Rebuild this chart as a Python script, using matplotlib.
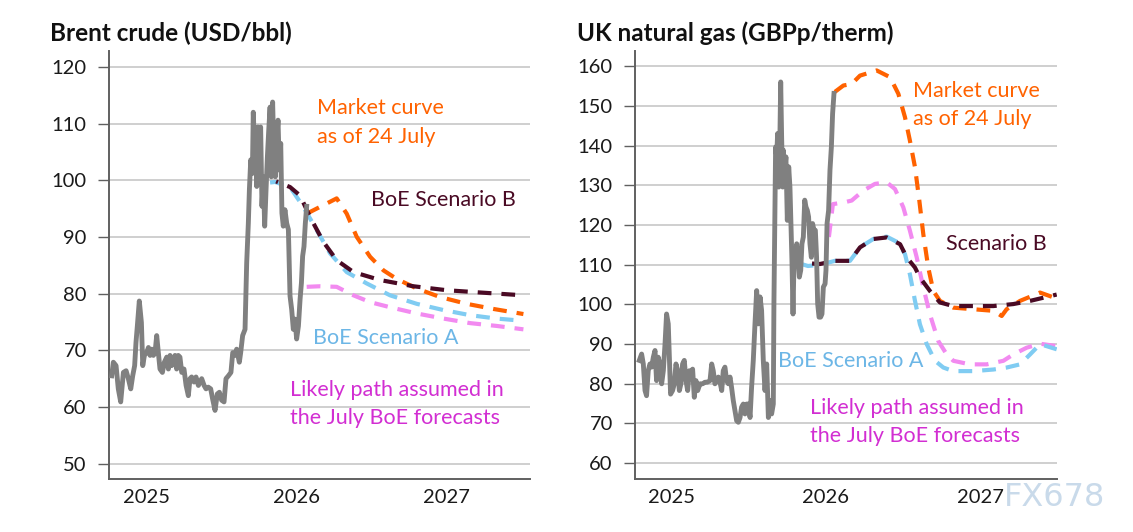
import matplotlib
matplotlib.use("Agg")
import matplotlib.pyplot as plt

# ---------------- DATA ----------------
# Brent crude (USD/bbl), x in fractional years
brent_x = [2024.771, 2024.782, 2024.800, 2024.815, 2024.831, 2024.849, 2024.867, 2024.882, 2024.898, 2024.911,
           2024.924, 2024.933, 2024.942, 2024.955, 2024.969, 2024.978, 2024.989, 2025.004, 2025.016, 2025.027,
           2025.038, 2025.049, 2025.060, 2025.071, 2025.082, 2025.093, 2025.109, 2025.122, 2025.138, 2025.149,
           2025.160, 2025.171, 2025.182, 2025.193, 2025.204, 2025.215, 2025.226, 2025.238, 2025.253, 2025.267,
           2025.282, 2025.293, 2025.304, 2025.320, 2025.333, 2025.349, 2025.360, 2025.371, 2025.387, 2025.400,
           2025.415, 2025.431, 2025.444, 2025.460, 2025.475, 2025.489, 2025.504, 2025.520, 2025.533, 2025.549,
           2025.566, 2025.578, 2025.593, 2025.604, 2025.622, 2025.631, 2025.644, 2025.660, 2025.671, 2025.682,
           2025.689, 2025.698, 2025.709, 2025.715, 2025.724, 2025.731, 2025.738, 2025.746, 2025.755, 2025.764,
           2025.773, 2025.782, 2025.791, 2025.800, 2025.809, 2025.818, 2025.827, 2025.835, 2025.844, 2025.853,
           2025.862, 2025.871, 2025.880, 2025.889, 2025.898, 2025.906, 2025.915, 2025.926, 2025.938, 2025.949,
           2025.960, 2025.971, 2025.982, 2025.993, 2026.004, 2026.016, 2026.027, 2026.036, 2026.044, 2026.053,
           2026.062, 2026.071]
brent_y = [65.5, 67.9, 67.3, 63.2, 60.9, 66.1, 66.4, 65.0, 63.2, 65.5,
           67.3, 71.4, 74.3, 78.7, 74.9, 67.3, 69.1, 69.6, 70.5, 69.1,
           70.2, 69.1, 69.6, 72.6, 69.6, 66.7, 66.1, 67.9, 68.8, 66.7,
           69.1, 67.3, 68.2, 69.1, 66.7, 69.1, 68.8, 66.1, 66.7, 63.8,
           62.0, 65.0, 65.3, 64.4, 65.3, 63.8, 64.4, 65.0, 63.8, 63.2,
           63.5, 63.2, 61.4, 59.4, 62.3, 62.6, 61.2, 60.9, 65.0, 65.5,
           66.1, 69.6, 69.1, 70.2, 67.9, 69.6, 72.6, 73.7, 85.4, 92.4,
           98.3, 103.6, 101.2, 112.0, 105.3, 107.1, 98.9, 109.4, 101.2, 109.4,
           95.4, 100.6, 91.9, 98.3, 104.1, 108.8, 112.9, 100.6, 113.8, 104.1,
           100.6, 107.1, 110.6, 101.8, 106.5, 94.2, 91.9, 94.8, 92.4, 91.3,
           79.6, 77.2, 73.7, 75.5, 72.0, 74.3, 79.0, 81.9, 86.6, 88.3,
           92.4, 95.4]

brent_b_x = [2025.867, 2025.960, 2026.027, 2026.094, 2026.183, 2026.271, 2026.383, 2026.560, 2026.783, 2027.005,
             2027.227, 2027.516]
brent_b_y = [99.8, 98.8, 97.3, 93.5, 89.1, 85.9, 83.8, 82.4, 81.3, 80.6, 80.2, 79.7]

brent_a_x = [2025.827, 2025.860, 2025.960, 2026.049, 2026.138, 2026.227, 2026.338, 2026.471, 2026.627, 2026.805,
             2026.983, 2027.160, 2027.338, 2027.516]
brent_a_y = [99.6, 99.7, 98.8, 95.3, 91.2, 87.1, 83.8, 81.8, 79.7, 78.2, 77.1, 76.2, 75.6, 75.2]

brent_mkt_x = [2026.071, 2026.160, 2026.271, 2026.338, 2026.405, 2026.494, 2026.583, 2026.671, 2026.805, 2026.960,
               2027.138, 2027.316, 2027.516]
brent_mkt_y = [94.1, 95.3, 96.8, 94.1, 90.0, 86.5, 84.1, 82.6, 80.9, 79.4, 78.2, 77.3, 76.4]

brent_lik_x = [2026.071, 2026.160, 2026.271, 2026.383, 2026.494, 2026.627, 2026.805, 2026.983, 2027.160, 2027.338,
               2027.516]
brent_lik_y = [81.2, 81.3, 81.2, 79.7, 78.5, 77.6, 76.5, 75.6, 74.8, 74.3, 73.7]

# UK natural gas (GBPp/therm)
gas_x = [2024.788, 2024.803, 2024.814, 2024.825, 2024.835, 2024.846, 2024.857, 2024.868, 2024.879, 2024.890,
         2024.900, 2024.911, 2024.922, 2024.933, 2024.944, 2024.955, 2024.965, 2024.976, 2024.983, 2024.991,
         2025.004, 2025.015, 2025.026, 2025.037, 2025.048, 2025.058, 2025.069, 2025.080, 2025.091, 2025.102,
         2025.113, 2025.123, 2025.134, 2025.145, 2025.156, 2025.167, 2025.182, 2025.199, 2025.214, 2025.229,
         2025.247, 2025.258, 2025.268, 2025.279, 2025.290, 2025.301, 2025.312, 2025.323, 2025.333, 2025.344,
         2025.355, 2025.366, 2025.377, 2025.387, 2025.398, 2025.409, 2025.420, 2025.431, 2025.442, 2025.452,
         2025.463, 2025.474, 2025.485, 2025.496, 2025.507, 2025.517, 2025.528, 2025.539, 2025.550, 2025.561,
         2025.572, 2025.582, 2025.593, 2025.604, 2025.615, 2025.626, 2025.636, 2025.647, 2025.658, 2025.662,
         2025.669, 2025.673, 2025.680, 2025.686, 2025.693, 2025.699, 2025.706, 2025.712, 2025.719, 2025.723,
         2025.732, 2025.740, 2025.749, 2025.758, 2025.766, 2025.773, 2025.779, 2025.786, 2025.792, 2025.801,
         2025.810, 2025.818, 2025.827, 2025.836, 2025.844, 2025.853, 2025.862, 2025.870, 2025.879, 2025.887,
         2025.896, 2025.905, 2025.913, 2025.922, 2025.931, 2025.939, 2025.946, 2025.955, 2025.965, 2025.974,
         2025.983, 2025.994, 2026.000, 2026.007, 2026.017, 2026.026, 2026.035, 2026.043, 2026.052]
gas_y = [85.9, 87.5, 85.0, 78.3, 77.0, 83.3, 85.0, 84.2, 86.7, 88.4,
         80.8, 86.7, 85.0, 80.0, 83.3, 90.1, 97.6, 95.1, 86.7, 77.4,
         78.3, 80.0, 85.0, 83.3, 78.3, 80.0, 85.0, 85.9, 80.8, 78.3,
         83.3, 81.7, 83.7, 76.6, 80.8, 78.3, 80.0, 80.0, 80.4, 80.4,
         80.8, 85.0, 83.3, 80.0, 80.8, 81.7, 80.4, 78.3, 83.3, 84.2,
         80.8, 80.0, 81.7, 79.1, 75.8, 73.2, 70.7, 70.3, 71.5, 74.1,
         74.9, 72.4, 74.9, 74.9, 71.5, 79.1, 85.9, 95.1, 103.5, 95.1,
         101.9, 98.5, 85.9, 78.3, 85.0, 71.5, 75.8, 72.4, 74.9, 100.2,
         125.4, 139.7, 137.2, 143.1, 129.6, 137.2, 156.1, 142.3, 129.6, 138.9,
         133.9, 137.2, 121.2, 134.7, 129.6, 119.5, 111.1, 97.6, 110.3, 111.9,
         115.3, 111.9, 106.9, 108.6, 115.3, 117.0, 126.3, 124.6, 123.7, 122.1,
         115.3, 111.9, 120.4, 118.7, 118.7, 111.9, 100.2, 96.8, 96.8, 97.6,
         104.4, 105.2, 108.6, 120.4, 123.7, 133.9, 139.7, 148.1, 153.2]

gas_mkt_x = [2026.058, 2026.113, 2026.167, 2026.221, 2026.329, 2026.416, 2026.470, 2026.513, 2026.545, 2026.578,
             2026.606, 2026.632, 2026.664, 2026.697, 2026.740, 2026.827, 2026.957, 2027.087, 2027.141, 2027.173,
             2027.260, 2027.390, 2027.498]
gas_mkt_y = [153.6, 155.2, 155.6, 157.7, 159.0, 157.3, 153.1, 147.2, 141.3, 134.6,
             126.2, 117.7, 109.3, 103.4, 100.9, 99.2, 98.8, 98.4, 97.1, 98.8,
             100.9, 103.0, 101.5]

gas_b_x = [2025.831, 2025.961, 2026.058, 2026.156, 2026.221, 2026.307, 2026.394, 2026.481, 2026.524, 2026.578,
           2026.610, 2026.675, 2026.740, 2026.827, 2026.935, 2027.087, 2027.216, 2027.325, 2027.498]
gas_b_y = [110.5, 110.2, 111.0, 111.0, 114.4, 116.5, 116.9, 115.2, 111.9, 109.3,
           106.8, 103.4, 100.5, 99.6, 99.6, 99.6, 100.1, 100.9, 102.5]

gas_a_x = [2025.831, 2025.883, 2025.961, 2026.058, 2026.156, 2026.221, 2026.307, 2026.394, 2026.470, 2026.513,
           2026.545, 2026.578, 2026.610, 2026.654, 2026.708, 2026.762, 2026.827, 2026.957, 2027.087, 2027.173,
           2027.260, 2027.325, 2027.390, 2027.498]
gas_a_y = [110.3, 109.7, 110.0, 111.0, 111.0, 114.4, 116.5, 117.1, 115.6, 112.7,
           107.6, 100.9, 95.0, 90.0, 85.8, 84.1, 83.2, 83.2, 83.6, 84.1,
           84.9, 87.4, 90.0, 88.7]

gas_lik_x = [2026.019, 2026.045, 2026.113, 2026.167, 2026.242, 2026.318, 2026.394, 2026.448, 2026.502, 2026.545,
             2026.589, 2026.632, 2026.675, 2026.729, 2026.784, 2026.827, 2026.935, 2027.043, 2027.152, 2027.216,
             2027.303, 2027.390, 2027.498]
gas_lik_y = [117.0, 125.3, 125.7, 126.2, 128.7, 130.4, 130.8, 129.1, 124.5, 118.6,
             111.9, 104.3, 97.5, 90.8, 87.4, 85.8, 84.9, 84.9, 85.8, 87.4,
             89.1, 90.1, 89.5]

year_ticks = [2025, 2026, 2027]
year_labels = ["2025", "2026", "2027"]
brent_yticks = [50, 60, 70, 80, 90, 100, 110, 120]
gas_yticks = [60, 70, 80, 90, 100, 110, 120, 130, 140, 150, 160]

# ---------------- STYLE ----------------
W, H = 1133, 532
plt.rcParams['font.family'] = ['Lato', 'DejaVu Sans']

GREY = '#808080'
ORANGE = '#FF6200'
DARK = '#4A0A24'
BLUE = '#80CCF2'
PINK = '#F28AF0'
TXT_BLUE = '#6CB6E6'
TXT_MAG = '#D22ED2'
GRID = '#CCCCCC'
SPINE = '#606060'

fig = plt.figure(figsize=(W / 100, H / 100), dpi=100)
fig.patch.set_facecolor('white')


def px_axes(x0, y0, x1, y1):
    return fig.add_axes([x0 / W, 1 - y1 / H, (x1 - x0) / W, (y1 - y0) / H])


def ftext(x, y, s, **kw):
    fig.text(x / W, 1 - y / H, s, **kw)


DASH = (0, (3.3, 2.4))
DASH_B = (2.8, (3.3, 2.4))
LW = 3.0


def style_axes(ax, yticks, xlim, ylim):
    ax.set_xlim(*xlim)
    ax.set_ylim(*ylim)
    ax.set_yticks(yticks)
    ax.set_xticks(year_ticks)
    ax.set_xticklabels(year_labels)
    ax.grid(axis='y', color=GRID, linewidth=1.3, zorder=0)
    ax.set_axisbelow(True)
    for s in ['top', 'right']:
        ax.spines[s].set_visible(False)
    for s in ['left', 'bottom']:
        ax.spines[s].set_color(SPINE)
        ax.spines[s].set_linewidth(1.4)
    ax.tick_params(axis='y', direction='out', length=8, width=1.0, color=SPINE,
                   labelsize=14.5, labelcolor='#1a1a1a', pad=8)
    ax.tick_params(axis='x', length=0, labelsize=14.5, labelcolor='#1a1a1a', pad=7)


# ---------------- LEFT: BRENT ----------------
ax1 = px_axes(109, 51, 530, 479)
style_axes(ax1, brent_yticks, (2024.753, 2027.560), (47.3, 122.8))
ax1.plot(brent_lik_x, brent_lik_y, color=PINK, lw=LW, ls=DASH, zorder=2)
ax1.plot(brent_a_x, brent_a_y, color=BLUE, lw=LW, ls=DASH, zorder=3)
ax1.plot(brent_mkt_x, brent_mkt_y, color=ORANGE, lw=LW, ls=DASH, zorder=4)
ax1.plot(brent_b_x, brent_b_y, color=DARK, lw=LW, ls=DASH_B, zorder=5)
ax1.plot(brent_x, brent_y, color=GREY, lw=3.5, zorder=6)

# ---------------- RIGHT: GAS ----------------
ax2 = px_axes(635, 51, 1057, 479)
style_axes(ax2, gas_yticks, (2024.760, 2027.5), (56.0, 163.9))
ax2.plot(gas_lik_x, gas_lik_y, color=PINK, lw=LW, ls=DASH, zorder=2)
ax2.plot(gas_a_x, gas_a_y, color=BLUE, lw=LW, ls=DASH, zorder=3)
ax2.plot(gas_mkt_x, gas_mkt_y, color=ORANGE, lw=LW, ls=DASH, zorder=4)
ax2.plot(gas_b_x, gas_b_y, color=DARK, lw=LW, ls=DASH_B, zorder=5)
ax2.plot(gas_x, gas_y, color=GREY, lw=3.5, zorder=6)

# ---------------- TEXT ----------------
ftext(50, 33, "Brent crude (USD/bbl)", fontsize=17.5, fontweight='bold', color='#111111', va='center')
ftext(577, 33, "UK natural gas (GBPp/therm)", fontsize=17.5, fontweight='bold', color='#111111', va='center')

ann = dict(fontsize=15.5, va='center', ha='left')
ftext(317, 108, "Market curve", color=ORANGE, **ann)
ftext(317, 137, "as of 24 July", color=ORANGE, **ann)
ftext(371, 200, "BoE Scenario B", color=DARK, **ann)
ftext(313, 338, "BoE Scenario A", color=TXT_BLUE, **ann)
ftext(290, 390, "Likely path assumed in", color=TXT_MAG, **ann)
ftext(290, 418, "the July BoE forecasts", color=TXT_MAG, **ann)

ftext(913, 91, "Market curve", color=ORANGE, **ann)
ftext(913, 119, "as of 24 July", color=ORANGE, **ann)
ftext(946, 244, "Scenario B", color=DARK, **ann)
ftext(778, 361, "BoE Scenario A", color=TXT_BLUE, **ann)
ftext(810, 408, "Likely path assumed in", color=TXT_MAG, **ann)
ftext(810, 436, "the July BoE forecasts", color=TXT_MAG, **ann)

ftext(1004, 497, "FX678", fontsize=23, color='#C9DAEA', va='center', ha='left',
      family=['DejaVu Sans'])

fig.savefig("out.png", dpi=100, facecolor='white')
